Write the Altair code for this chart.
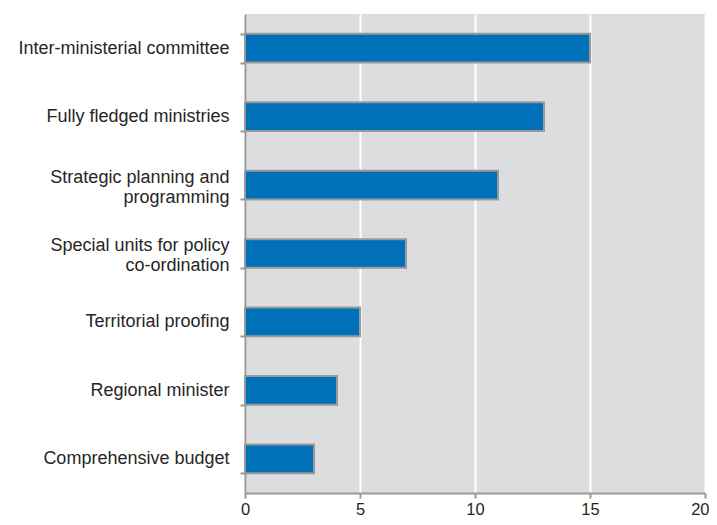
import altair as alt
import pandas as pd

categories = [
    "Inter-ministerial committee",
    "Fully fledged ministries",
    "Strategic planning and|programming",
    "Special units for policy|co-ordination",
    "Territorial proofing",
    "Regional minister",
    "Comprehensive budget",
]
values = [15, 13, 11, 7, 5, 4, 3]
x_ticks = [0, 5, 10, 15, 20]

df = pd.DataFrame({"category": categories, "value": values})

font = "Liberation Sans"

two_line = [c for c in categories if "|" in c]
two_line_test = " || ".join("datum.value == '%s'" % c for c in two_line)

chart = (
    alt.Chart(df)
    .mark_bar(color="#0070B8", stroke="#999999", strokeWidth=2)
    .encode(
        y=alt.Y(
            "category:N",
            sort=categories,
            title=None,
            scale=alt.Scale(paddingInner=0.58, paddingOuter=0.29),
            axis=alt.Axis(
                labelExpr="split(datum.label, '|')",
                tickBand="extent",
                tickSize=5,
                tickColor="#999999",
                tickWidth=2,
                domainColor="#999999",
                domainWidth=2,
                labelPadding=11,
                labelFont=font,
                labelFontSize=18,
                labelColor="#262626",
                labelAlign="right",
                labelLineHeight=20,
                labelLimit=400,
                labelOffset={"condition": {"test": two_line_test, "value": -8}, "value": 0},
                grid=False,
            ),
        ),
        x=alt.X(
            "value:Q",
            title=None,
            scale=alt.Scale(domain=[0, 20]),
            axis=alt.Axis(
                values=x_ticks,
                tickSize=5,
                tickColor="#999999",
                tickWidth=2,
                domainColor="#999999",
                domainWidth=2,
                labelPadding=3,
                labelFont=font,
                labelFontSize=16.5,
                labelColor="#262626",
                labelAlign={"condition": {"test": "datum.value == 20", "value": "right"}, "value": "center"},
                labelOffset={"condition": {"test": "datum.value == 20", "value": 4}, "value": 0},
                grid=True,
                gridColor="#ffffff",
                gridWidth=2,
            ),
        ),
    )
    .properties(
        width=460,
        height=479,
        autosize=alt.AutoSizeParams(type="none"),
        padding={"left": 237, "top": 6, "right": 4, "bottom": 24},
        view=alt.ViewBackground(fill="#DCDDDE", stroke="#DCDDDE"),
    )
    .configure(background="#ffffff")
)

chart.save("out.html", embed_options={"renderer": "svg", "actions": False})
